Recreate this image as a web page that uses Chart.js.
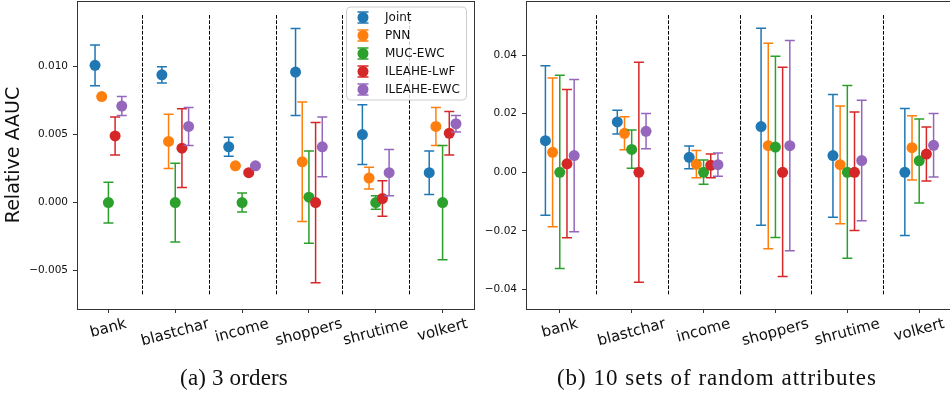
<!DOCTYPE html>
<html>
<head>
<meta charset="utf-8">
<script src="https://cdn.jsdelivr.net/npm/chart.js@4"></script>
<style>
  html, body { margin: 0; padding: 0; width: 950px; height: 395px; overflow: hidden; background: #fff; }
  .pane { position: absolute; top: 0; height: 395px; }
  .cap { position: absolute; top: 366px; font-family: 'Liberation Serif', serif; font-size: 23px;
         line-height: 23px; color: #111; white-space: nowrap; transform: translateX(-50%); }
</style>
</head>
<body>
<div class="pane" style="left:0;width:480px"><canvas id="chA" width="480" height="395"></canvas></div>
<div class="pane" style="left:480px;width:473px"><canvas id="chB" width="473" height="395"></canvas></div>
<div class="cap" style="left:234px;letter-spacing:0.15px">(a) 3 orders</div>
<div class="cap" style="left:717px;letter-spacing:1px">(b) 10 sets of random attributes</div>

<script>
// ── Data ──────────────────────────────────────────────────────────────────────
const tasks   = ['bank', 'blastchar', 'income', 'shoppers', 'shrutime', 'volkert'];
const methods = ['Joint', 'PNN', 'MUC-EWC', 'ILEAHE-LwF', 'ILEAHE-EWC'];

// (a) 3 orders — one row per method, one column per task
const meanA = [
  [0.0101, 0.0094, 0.0041, 0.0096, 0.0050, 0.0022],
  [0.0078, 0.0045, 0.0027, 0.0030, 0.0018, 0.0056],
  [0.0000, 0.0000, 0.0000, 0.0004, 0.0000, 0.0000],
  [0.0049, 0.0040, 0.0022, 0.0000, 0.0003, 0.0051],
  [0.0071, 0.0056, 0.0027, 0.0041, 0.0022, 0.0058]
];
const lowA = [
  [0.0086, 0.0088, 0.0034, 0.0064, 0.0028, 0.0006],
  [0.0078, 0.0025, 0.0027, -0.0014, 0.0010, 0.0042],
  [-0.0015, -0.0029, -0.0007, -0.0030, -0.0005, -0.0042],
  [0.0035, 0.0011, 0.0021, -0.0059, -0.0010, 0.0035],
  [0.0064, 0.0042, 0.0026, 0.0019, 0.0005, 0.0052]
];
const highA = [
  [0.0116, 0.0100, 0.0048, 0.0128, 0.0072, 0.0038],
  [0.0078, 0.0065, 0.0027, 0.0074, 0.0026, 0.0070],
  [0.0015, 0.0029, 0.0007, 0.0038, 0.0005, 0.0042],
  [0.0063, 0.0069, 0.0023, 0.0059, 0.0016, 0.0067],
  [0.0078, 0.0070, 0.0028, 0.0063, 0.0039, 0.0064]
];
const sepA   = [-0.0068, 0.0138];
const yTickA = [-0.005, 0, 0.005, 0.010];

// (b) 10 sets of random attributes
const meanB = [
  [0.0108, 0.0172, 0.0051, 0.0156, 0.0057, 0.0000],
  [0.0068, 0.0133, 0.0027, 0.0091, 0.0026, 0.0084],
  [0.0000, 0.0078, 0.0000, 0.0086, 0.0000, 0.0039],
  [0.0029, 0.0000, 0.0024, 0.0000, 0.0000, 0.0062],
  [0.0057, 0.0140, 0.0026, 0.0091, 0.0040, 0.0092]
];
const lowB = [
  [-0.0147, 0.0131, 0.0012, -0.0181, -0.0154, -0.0216],
  [-0.0186, 0.0077, -0.0019, -0.0261, -0.0176, -0.0026],
  [-0.0329, 0.0014, -0.0041, -0.0223, -0.0294, -0.0105],
  [-0.0224, -0.0376, -0.0019, -0.0356, -0.0199, -0.0030],
  [-0.0203, 0.0080, -0.0014, -0.0268, -0.0166, -0.0016]
];
const highB = [
  [0.0364, 0.0212, 0.0090, 0.0492, 0.0266, 0.0218],
  [0.0322, 0.0190, 0.0074, 0.0441, 0.0226, 0.0193],
  [0.0331, 0.0144, 0.0042, 0.0396, 0.0296, 0.0182],
  [0.0283, 0.0376, 0.0062, 0.0359, 0.0206, 0.0155],
  [0.0317, 0.0201, 0.0066, 0.0450, 0.0246, 0.0201]
];
const sepB   = [-0.0419, 0.0537];
const yTickB = [-0.04, -0.02, 0, 0.02, 0.04];

// ── Style ─────────────────────────────────────────────────────────────────────
const COLORS  = ['#1f77b4', '#ff7f0e', '#2ca02c', '#d62728', '#9467bd'];
const OFFSETS = [-0.2, -0.1, 0, 0.1, 0.2];
const INK  = '#333';
const SANS = "'DejaVu Sans', sans-serif";

const fmt = dec => v => (v < 0 ? '\u2212' : '') + Math.abs(v).toFixed(dec);

// error bars go under their own marker, over earlier series
const errorBars = {
  id: 'errorBars',
  beforeDatasetDraw(chart, args) {
    const ds = chart.data.datasets[args.index];
    const { x, y } = chart.scales;
    const ctx = chart.ctx;
    ctx.save();
    ctx.strokeStyle = ds.backgroundColor;
    ctx.lineWidth = 1.5;
    ds.data.forEach((p, i) => {
      const px = x.getPixelForValue(p.x);
      const y0 = y.getPixelForValue(ds.lo[i]);
      const y1 = y.getPixelForValue(ds.hi[i]);
      ctx.beginPath();
      ctx.moveTo(px, y0); ctx.lineTo(px, y1);
      ctx.moveTo(px - 5, y0); ctx.lineTo(px + 5, y0);
      ctx.moveTo(px - 5, y1); ctx.lineTo(px + 5, y1);
      ctx.stroke();
    });
    ctx.restore();
  }
};

function separators(ext) {
  return {
    id: 'separators',
    beforeDatasetsDraw(chart) {
      const { x, y } = chart.scales;
      const ctx = chart.ctx;
      ctx.save();
      ctx.strokeStyle = '#000';
      ctx.lineWidth = 1;
      ctx.setLineDash([3.7, 1.6]);
      for (let k = 0; k < tasks.length - 1; k++) {
        const px = Math.round(x.getPixelForValue(k + 0.5)) + 0.5;
        ctx.beginPath();
        ctx.moveTo(px, y.getPixelForValue(ext[1]));
        ctx.lineTo(px, y.getPixelForValue(ext[0]));
        ctx.stroke();
      }
      ctx.restore();
    }
  };
}

// rotated category labels centred on their ticks, plus the full axes box
const frameAndLabels = {
  id: 'frameAndLabels',
  afterDraw(chart) {
    const ctx = chart.ctx;
    const a = chart.chartArea;
    const x = chart.scales.x;
    ctx.save();
    ctx.strokeStyle = INK;
    ctx.lineWidth = 1;
    ctx.strokeRect(Math.round(a.left) + 0.5, Math.round(a.top) + 0.5,
                   Math.round(a.right - a.left), Math.round(a.bottom - a.top));
    ctx.font = '15px ' + SANS;
    ctx.fillStyle = '#111';
    ctx.textAlign = 'center';
    ctx.textBaseline = 'middle';
    const ang = 15 * Math.PI / 180;
    tasks.forEach((t, i) => {
      const w = ctx.measureText(t).width;
      const h = 15;
      const cy = a.bottom + 7.5 + (w * Math.sin(ang) + h * Math.cos(ang)) / 2;
      ctx.save();
      ctx.translate(x.getPixelForValue(i), cy);
      ctx.rotate(-ang);
      ctx.fillText(t, 0, 0);
      ctx.restore();
    });
    ctx.restore();
  }
};

const legendBox = {
  id: 'legendBox',
  afterDraw(chart) {
    const ctx = chart.ctx;
    const a = chart.chartArea;
    const r = a.right - 7.5, l = r - 120, t = a.top + 6, b = t + 93;
    ctx.save();
    ctx.beginPath();
    ctx.roundRect(l, t, r - l, b - t, 4);
    ctx.fillStyle = 'rgba(255,255,255,0.8)';
    ctx.fill();
    ctx.strokeStyle = '#cccccc';
    ctx.lineWidth = 1;
    ctx.stroke();
    ctx.font = '12px ' + SANS;
    ctx.textBaseline = 'middle';
    methods.forEach((m, i) => {
      const cy = t + 10.5 + i * 18;
      const mx = l + 16.5;
      ctx.strokeStyle = COLORS[i];
      ctx.lineWidth = 1.5;
      ctx.beginPath();
      ctx.moveTo(mx, cy - 5.5); ctx.lineTo(mx, cy + 5.5);
      ctx.moveTo(mx - 5.5, cy - 5.5); ctx.lineTo(mx + 5.5, cy - 5.5);
      ctx.moveTo(mx - 5.5, cy + 5.5); ctx.lineTo(mx + 5.5, cy + 5.5);
      ctx.stroke();
      ctx.fillStyle = COLORS[i];
      ctx.beginPath();
      ctx.arc(mx, cy, 5.5, 0, Math.PI * 2);
      ctx.fill();
      ctx.fillStyle = '#111';
      ctx.fillText(m, l + 38.5, cy + 0.5);
    });
    ctx.restore();
  }
};

// ── Chart factory ─────────────────────────────────────────────────────────────
function panel(id, mean, low, high, sep, yRange, yTicks, dec, yAxisW, padRight, withTitle, extra) {
  const datasets = methods.map((m, j) => ({
    label: m,
    data: tasks.map((_, i) => ({ x: i + OFFSETS[j], y: mean[j][i] })),
    lo: low[j],
    hi: high[j],
    backgroundColor: COLORS[j],
    borderColor: COLORS[j],
    pointRadius: 5.5,
    pointHoverRadius: 5.5,
    pointBorderWidth: 0,
    order: methods.length - j
  }));

  return new Chart(document.getElementById(id), {
    type: 'scatter',
    data: { datasets },
    plugins: [separators(sep), errorBars, frameAndLabels].concat(extra),
    options: {
      responsive: false,
      animation: false,
      events: [],
      layout: { autoPadding: false, padding: { top: 1, right: padRight, left: 0, bottom: 0 } },
      plugins: { legend: { display: false }, tooltip: { enabled: false } },
      scales: {
        x: {
          type: 'linear', min: -0.47, max: 5.47,
          afterBuildTicks: s => { s.ticks = tasks.map((_, i) => ({ value: i })); },
          afterFit: s => { s.height = 86; s.paddingLeft = 0; s.paddingRight = 0; },
          ticks: { callback: () => '', maxRotation: 0 },
          grid: { drawOnChartArea: false, drawTicks: true, tickLength: 4, color: INK, lineWidth: 1 },
          border: { display: true, color: INK, width: 1 }
        },
        y: {
          min: yRange[0], max: yRange[1],
          afterBuildTicks: s => { s.ticks = yTicks.map(v => ({ value: v })); },
          afterFit: s => { s.width = yAxisW; s.paddingTop = 0; s.paddingBottom = 0; },
          ticks: { callback: fmt(dec), color: '#111', padding: 5, font: { family: SANS, size: 10.5 } },
          grid: { drawOnChartArea: false, drawTicks: true, tickLength: 4, color: INK, lineWidth: 1 },
          border: { display: true, color: INK, width: 1 },
          title: {
            display: withTitle, text: 'Relative AAUC', color: '#111',
            font: { family: SANS, size: 19 }, padding: { top: 3, bottom: 0 }
          }
        }
      }
    }
  });
}

panel('chA', meanA, lowA, highA, sepA, [-0.00783, 0.01483], yTickA, 3, 77, 6, true, [legendBox]);
panel('chB', meanB, lowB, highB, sepB, [-0.0467, 0.0585], yTickB, 2, 46, 0, false, []);
</script>
</body>
</html>
